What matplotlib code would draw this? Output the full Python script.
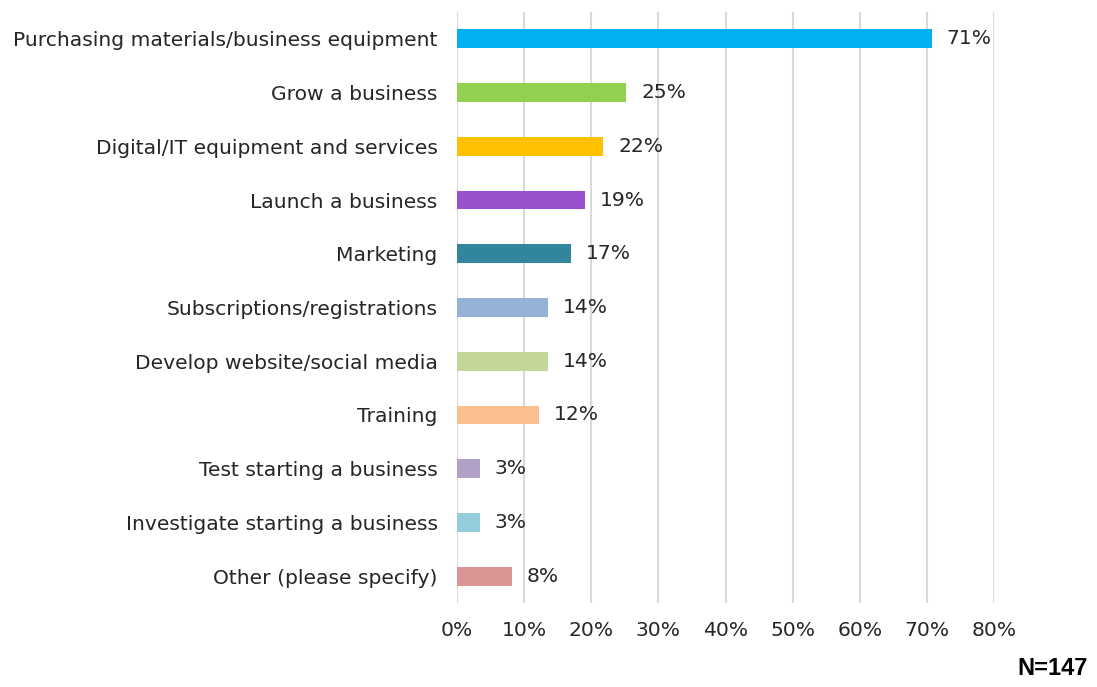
import matplotlib
matplotlib.use("Agg")
import matplotlib.pyplot as plt
from matplotlib.ticker import PercentFormatter
from matplotlib.transforms import offset_copy

categories = [
    "Purchasing materials/business equipment",
    "Grow a business",
    "Digital/IT equipment and services",
    "Launch a business",
    "Marketing",
    "Subscriptions/registrations",
    "Develop website/social media",
    "Training",
    "Test starting a business",
    "Investigate starting a business",
    "Other (please specify)",
]
shares = [70.7, 25.2, 21.8, 19.0, 17.0, 13.6, 13.6, 12.2, 3.4, 3.4, 8.2]
colors = [
    "#00B0F0", "#92D050", "#FFC000", "#9852CB", "#31859C",
    "#95B3D7", "#C4D79B", "#FAC090", "#B2A1C7", "#93CDDD", "#DA9694",
]
x_ticks = [0, 10, 20, 30, 40, 50, 60, 70, 80]
sample_note = "N=147"

font = "DejaVu Sans"
text_color = "#262626"
size = 14.6

fig = plt.figure(figsize=(10.97, 6.87), dpi=100)
ax = fig.add_axes([0.4166, 0.1223, 0.4895, 0.8602])

y = list(range(len(categories)))
ax.barh(y, shares, height=0.35, color=colors, zorder=3)

ax.set_xlim(0, 80)
ax.set_ylim(len(categories) - 0.5, -0.5)
ax.set_xticks(x_ticks)
ax.xaxis.set_major_formatter(PercentFormatter(decimals=0))
ax.set_yticks(y)
ax.set_yticklabels(categories)

ax.grid(axis="x", color="#D9D9D9", linewidth=1.5, zorder=0)
for side in ("top", "right", "bottom", "left"):
    ax.spines[side].set_visible(False)
ax.tick_params(axis="both", length=0, colors=text_color, labelsize=size)
ax.tick_params(axis="y", pad=14)
ax.tick_params(axis="x", pad=13)
for lbl in ax.get_xticklabels() + ax.get_yticklabels():
    lbl.set_fontfamily(font)

for yi, v in zip(y, shares):
    ax.text(v, yi, f"{v:.0f}%", va="center", ha="left", fontsize=size,
            color=text_color, family=font,
            transform=offset_copy(ax.transData, fig=fig, x=15, y=0, units="dots"))

fig.text(0.992, 12 / 687, sample_note, ha="right", va="baseline", fontsize=17,
         fontweight="bold", family="Liberation Sans", color="#000000")

fig.savefig("out.png", dpi=100, facecolor="white")
